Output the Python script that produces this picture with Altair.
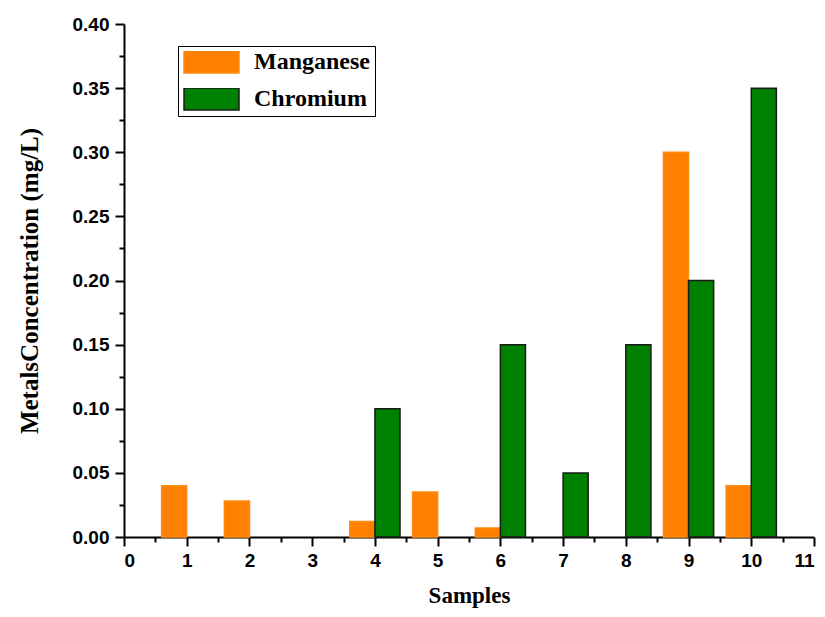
import altair as alt
import pandas as pd

samples = [1, 2, 3, 4, 5, 6, 7, 8, 9, 10]
manganese = [0.040, 0.028, 0.0, 0.012, 0.035, 0.007, 0.0, 0.0, 0.30, 0.040]
chromium = [0.0, 0.0, 0.0, 0.10, 0.0, 0.15, 0.05, 0.15, 0.20, 0.35]
metals = ["Manganese", "Chromium"]
x_ticks = [0, 1, 2, 3, 4, 5, 6, 7, 8, 9, 10, 11]
x_minor = [0.5, 1.5, 2.5, 3.5, 4.5, 5.5, 6.5, 7.5, 8.5, 9.5, 10.5]
y_ticks = [0.0, 0.05, 0.10, 0.15, 0.20, 0.25, 0.30, 0.35, 0.40]
y_minor = [0.025, 0.075, 0.125, 0.175, 0.225, 0.275, 0.325, 0.375]

rows = []
for s, m, c in zip(samples, manganese, chromium):
    rows.append({"Sample": s, "Metal": "Manganese", "Value": m})
    rows.append({"Sample": s, "Metal": "Chromium", "Value": c})
df = pd.DataFrame(rows)

fill_colors = ["#FF8000", "#008000"]
stroke_colors = ["#FF8A10", "#1a1a1a"]

xscale = alt.Scale(domain=[0, 11], nice=False, zero=False)
yscale = alt.Scale(domain=[0, 0.4], nice=False, zero=True)

axis_common = dict(
    domainColor="black", domainWidth=2, tickColor="black", tickWidth=2,
    labelFont="Liberation Sans", labelFontWeight="bold", labelFontSize=19,
    labelColor="black", titleFont="Liberation Serif", titleFontWeight="bold",
    titleColor="black", grid=False,
)

legend_def = alt.Legend(
    title=None, orient="none", legendX=54, legendY=22,
    strokeColor="black", padding=5, fillColor="white",
    symbolType="M-1,-0.4H1V0.4H-1Z", symbolSize=3025, clipHeight=22,
    rowPadding=13, labelFont="Liberation Serif", labelFontWeight="bold",
    labelFontSize=24, labelColor="black", labelOffset=14,
    symbolStrokeWidth=1.5, symbolOpacity=1,
)

bars = (
    alt.Chart(df)
    .transform_filter("datum.Value > 0")
    .transform_calculate(
        x0="datum.Metal == 'Manganese' ? datum.Sample - 0.4 : datum.Sample",
        x1="datum.Metal == 'Manganese' ? datum.Sample : datum.Sample + 0.4",
    )
    .mark_rect(strokeWidth=1.5, opacity=1)
    .encode(
        x=alt.X("x0:Q", scale=xscale,
                axis=alt.Axis(values=x_ticks, title="Samples", orient="bottom",
                              tickSize=9, labelPadding=5, titlePadding=14,
                              titleFontSize=23, format="d", **axis_common)),
        x2="x1:Q",
        y=alt.Y("Value:Q", scale=yscale,
                axis=alt.Axis(values=y_ticks, title="MetalsConcentration (mg/L)",
                              orient="left", tickSize=9, labelPadding=6,
                              titlePadding=30, titleFontSize=25, format=".2f",
                              **axis_common)),
        y2=alt.datum(0),
        color=alt.Color("Metal:N", scale=alt.Scale(domain=metals, range=fill_colors),
                        legend=legend_def),
        stroke=alt.Stroke("Metal:N", scale=alt.Scale(domain=metals, range=stroke_colors),
                          legend=legend_def),
    )
)

minor = (
    alt.Chart(df)
    .mark_point(opacity=0)
    .encode(
        x=alt.X("Sample:Q", scale=xscale,
                axis=alt.Axis(values=x_minor, labels=False, domain=False, title=None,
                              orient="bottom", tickSize=5, tickWidth=2,
                              tickColor="black", grid=False)),
        y=alt.Y("Value:Q", scale=yscale,
                axis=alt.Axis(values=y_minor, labels=False, domain=False, title=None,
                              orient="left", tickSize=5, tickWidth=2,
                              tickColor="black", grid=False)),
    )
)

chart = (
    alt.layer(bars, minor)
    .resolve_axis(x="independent", y="independent")
    .properties(
        width=690, height=513,
        padding={"left": 116, "top": 16, "right": 3, "bottom": 72},
        autosize=alt.AutoSizeParams(type="none"),
        background="white",
    )
    .configure_view(stroke="transparent")
)

chart.save("out.html", embed_options={"renderer": "svg", "actions": False})
